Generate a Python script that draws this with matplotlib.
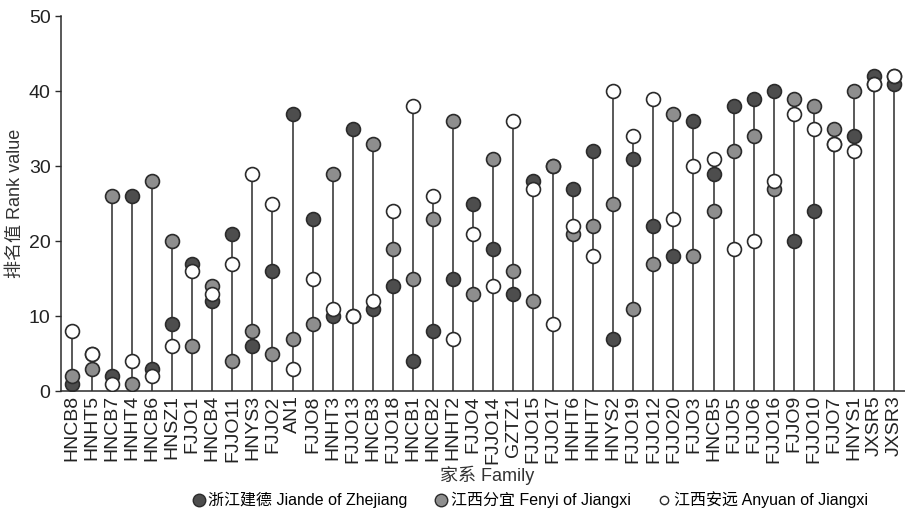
import numpy as np
import matplotlib
matplotlib.use("Agg")
from matplotlib import pyplot as plt
from matplotlib.lines import Line2D

plt.rcParams['font.family'] = ['Liberation Sans', 'Noto Sans CJK SC']

families = ['HNCB8', 'HNHT5', 'HNCB7', 'HNHT4', 'HNCB6', 'HNSZ1', 'FJJO1', 'HNCB4',
            'FJJO11', 'HNYS3', 'FJJO2', 'AN1', 'FJJO8', 'HNHT3', 'FJJO13', 'HNCB3',
            'FJJO18', 'HNCB1', 'HNCB2', 'HNHT2', 'FJJO4', 'FJJO14', 'GZTZ1', 'FJJO15',
            'FJJO17', 'HNHT6', 'HNHT7', 'HNYS2', 'FJJO19', 'FJJO12', 'FJJO20', 'FJJO3',
            'HNCB5', 'FJJO5', 'FJJO6', 'FJJO16', 'FJJO9', 'FJJO10', 'FJJO7', 'HNYS1',
            'JXSR5', 'JXSR3']

# rank values per site
jiande = [1, 5, 2, 26, 3, 9, 17, 12, 21, 6, 16, 37, 23, 10, 35, 11,
          14, 4, 8, 15, 25, 19, 13, 28, 30, 27, 32, 7, 31, 22, 18, 36,
          29, 38, 39, 40, 20, 24, 33, 34, 42, 41]
fenyi = [2, 3, 26, 1, 28, 20, 6, 14, 4, 8, 5, 7, 9, 29, 10, 33,
         19, 15, 23, 36, 13, 31, 16, 12, 30, 21, 22, 25, 11, 17, 37, 18,
         24, 32, 34, 27, 39, 38, 35, 40, 41, 42]
anyuan = [8, 5, 1, 4, 2, 6, 16, 13, 17, 29, 25, 3, 15, 11, 10, 12,
          24, 38, 26, 7, 21, 14, 36, 27, 9, 22, 18, 40, 34, 39, 23, 30,
          31, 19, 20, 28, 37, 35, 33, 32, 41, 42]

x = np.arange(len(families))
top = np.max([jiande, fenyi, anyuan], axis=0)

fig = plt.figure(figsize=(9.05, 5.17), dpi=100)
ax = fig.add_axes([0.0674, 0.2437, 0.9326, 0.7253])

ax.vlines(x, 0, top, color='#2b2b2b', lw=1.1, zorder=1)
ms = 10
ec = '#2b2b2b'
ax.plot(x, jiande, 'o', ms=ms, mfc='#4d4d4d', mec=ec, mew=1.2, ls='none', zorder=2)
ax.plot(x, fenyi, 'o', ms=ms, mfc='#8e8e8e', mec=ec, mew=1.2, ls='none', zorder=3)
ax.plot(x, anyuan, 'o', ms=ms, mfc='white', mec=ec, mew=1.2, ls='none', zorder=4)

ax.set_xlim(-0.55, len(families) - 0.45)
ax.set_ylim(0, 50)
ax.set_yticks([0, 10, 20, 30, 40, 50])
ax.set_xticks(x)
ax.set_xticklabels(families, rotation=90, fontsize=14)
ax.tick_params(axis='x', length=0, pad=3, labelcolor='#222222')
ax.tick_params(axis='y', labelsize=14, length=4, width=1, color='#2b2b2b',
               labelcolor='#222222')
for s in ['top', 'right']:
    ax.spines[s].set_visible(False)
for s in ['left', 'bottom']:
    ax.spines[s].set_color('#2b2b2b')
    ax.spines[s].set_linewidth(1.1)

ax.set_ylabel('排名值 Rank value', fontsize=13, color='#333333')
ax.yaxis.set_label_coords(-0.044, 0.5)
ax.set_xlabel('家系 Family', fontsize=13, color='#333333')
ax.xaxis.set_label_coords(0.505, -0.2)

handles = [
    Line2D([], [], marker='o', ls='none', ms=9, mfc='#4d4d4d', mec=ec, mew=1.0),
    Line2D([], [], marker='o', ls='none', ms=9, mfc='#8e8e8e', mec=ec, mew=1.0),
    Line2D([], [], marker='o', ls='none', ms=6, mfc='white', mec=ec, mew=1.0),
]
labels = ['浙江建德 Jiande of Zhejiang', '江西分宜 Fenyi of Jiangxi', '江西安远 Anyuan of Jiangxi']
fig.legend(handles, labels, loc='center', bbox_to_anchor=(0.585, 0.033), ncol=3,
           frameon=False, fontsize=11.5, handletextpad=0.1, columnspacing=1.6,
           handlelength=1.0)

fig.savefig('out.png', dpi=100)
